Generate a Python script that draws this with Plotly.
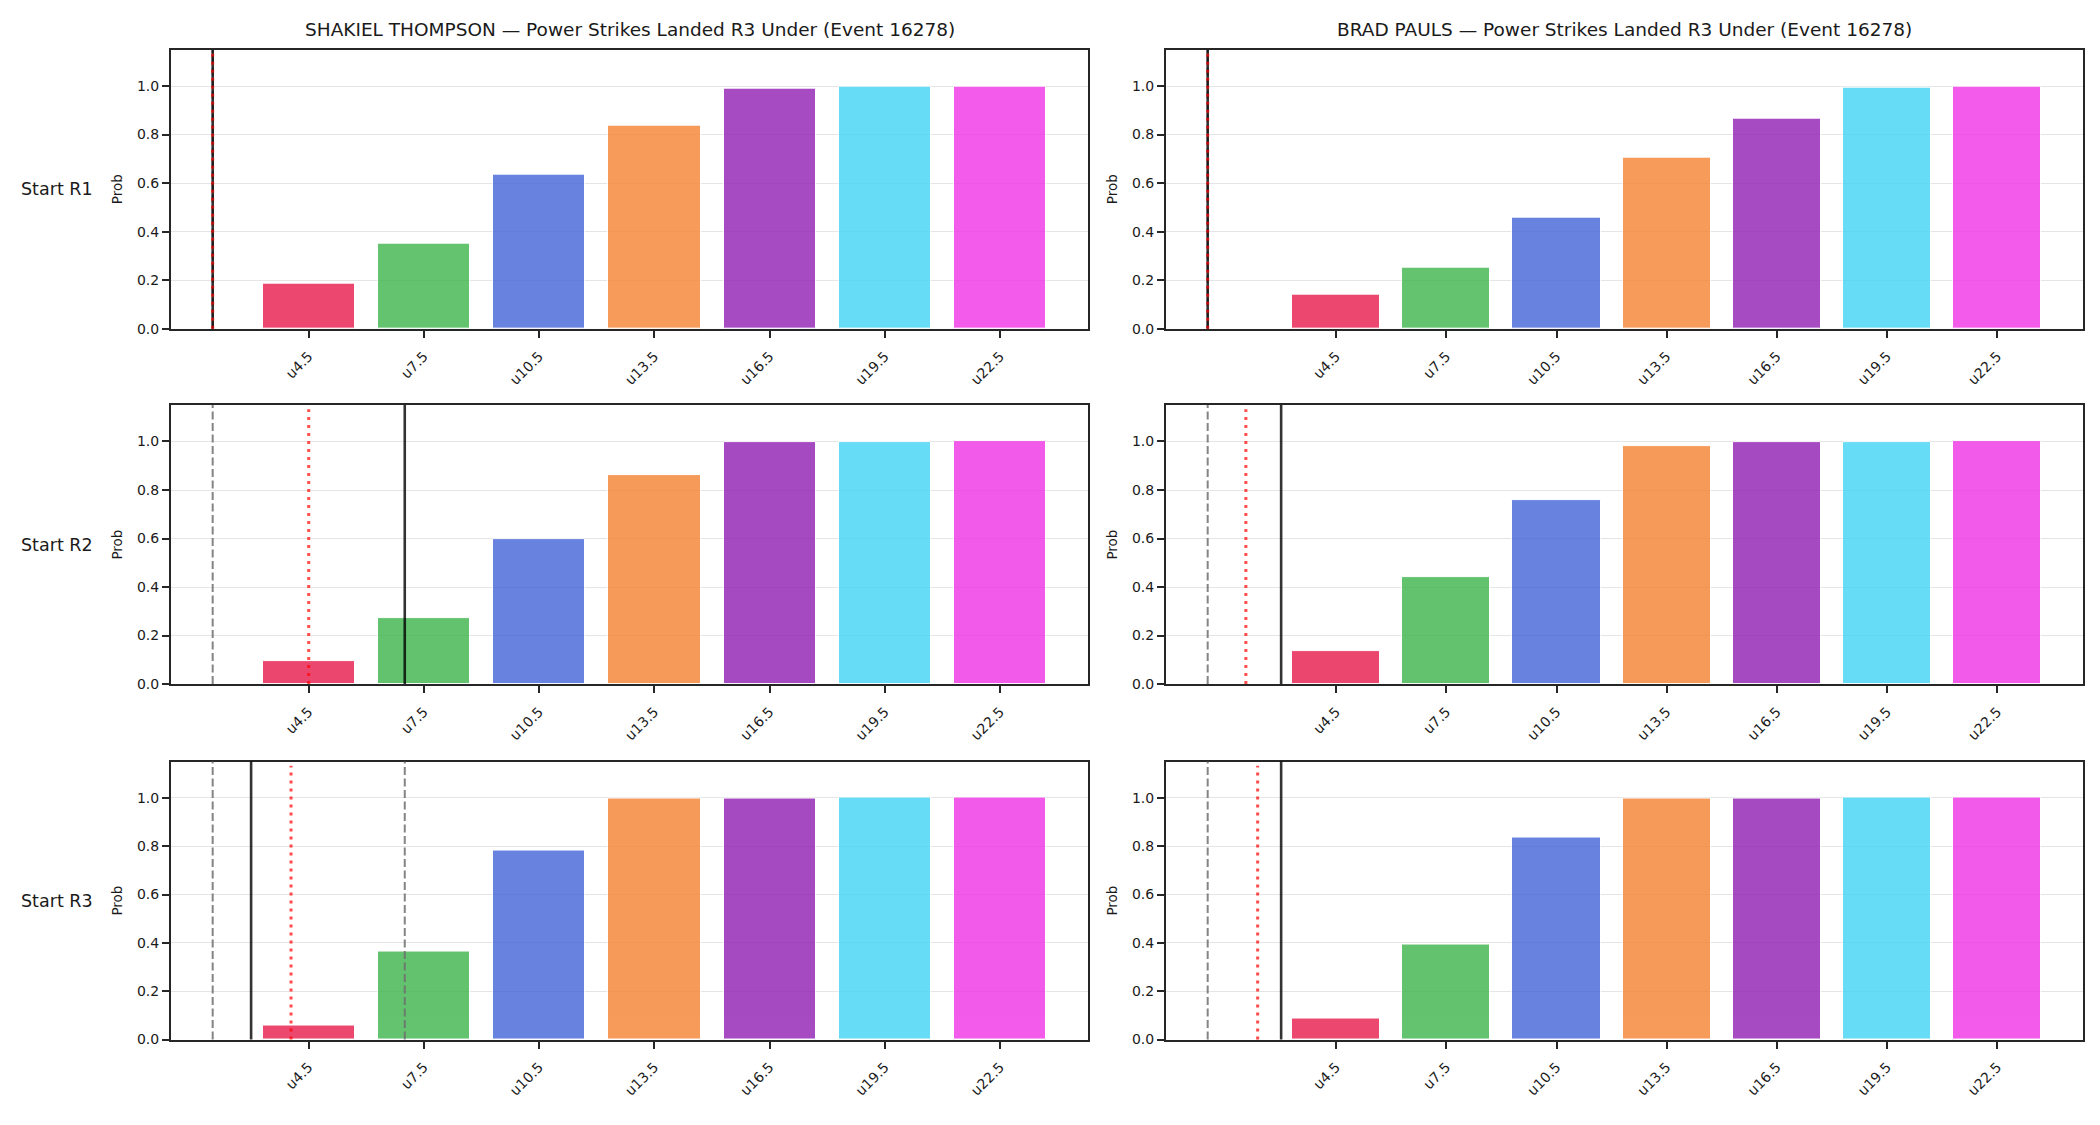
import plotly.graph_objects as go

# ---------------- data ----------------
categories = ["u4.5", "u7.5", "u10.5", "u13.5", "u16.5", "u19.5", "u22.5"]
thresholds = [4.5, 7.5, 10.5, 13.5, 16.5, 19.5, 22.5]
bar_colors = ["#E6194B", "#3CB44B", "#4363D8", "#F58231", "#911EB4", "#42D4F4", "#F032E6"]

fighters = ["SHAKIEL THOMPSON", "BRAD PAULS"]
row_labels = ["Start R1", "Start R2", "Start R3"]
title_suffix = " — Power Strikes Landed R3 Under (Event 16278)"

thompson_r1 = [0.185, 0.349, 0.636, 0.837, 0.989, 0.998, 0.999]
thompson_r2 = [0.093, 0.274, 0.599, 0.862, 0.998, 0.999, 1.0]
thompson_r3 = [0.056, 0.366, 0.783, 0.998, 0.999, 1.0, 1.0]
pauls_r1 = [0.140, 0.250, 0.456, 0.706, 0.866, 0.993, 0.998]
pauls_r2 = [0.138, 0.442, 0.759, 0.981, 0.998, 0.999, 1.0]
pauls_r3 = [0.085, 0.394, 0.836, 0.998, 0.999, 1.0, 1.0]

# vertical reference markers per panel (rows R1..R3)
thompson_dashed = [[2], [2], [2, 7]]
thompson_solid = [2, 7, 3]
thompson_dotted = [2, 4.5, 4.04]
pauls_dashed = [[1], [1], [1]]
pauls_solid = [1, 3, 3]
pauls_dotted = [1, 2.04, 2.36]

values = [[thompson_r1, pauls_r1], [thompson_r2, pauls_r2], [thompson_r3, pauls_r3]]
dashed = [thompson_dashed, pauls_dashed]
solid = [thompson_solid, pauls_solid]
dotted = [thompson_dotted, pauls_dotted]

# ---------------- layout geometry ----------------
W, H = 2100, 1125
col_px = [(171, 1088), (1166, 2083)]
row_px = [(50, 331), (408, 689), (767, 1047)]
bar_w = 0.8 * (thresholds[1] - thresholds[0])

FONT = "DejaVu Sans"
INK = "#262626"

fig = go.Figure()
shapes = []
annotations = []
layout_axes = {}

for r in range(3):
    for c in range(2):
        idx = r * 2 + c + 1
        xa = "xaxis" if idx == 1 else f"xaxis{idx}"
        ya = "yaxis" if idx == 1 else f"yaxis{idx}"
        xr = "x" if idx == 1 else f"x{idx}"
        yr = "y" if idx == 1 else f"y{idx}"

        fig.add_trace(go.Bar(
            x=thresholds, y=values[r][c], width=bar_w,
            marker=dict(color=bar_colors, line=dict(color="white", width=1)),
            opacity=0.8, xaxis=xr, yaxis=yr, showlegend=False,
        ))

        marks = dashed[c][r] + [solid[c][r], dotted[c][r]]
        lo = min(min(marks), thresholds[0] - bar_w / 2)
        hi = max(max(marks), thresholds[-1] + bar_w / 2)
        pad = 0.05 * (hi - lo)

        x0, x1 = col_px[c]
        y0, y1 = row_px[r]
        layout_axes[xa] = dict(
            domain=[x0 / W, x1 / W], anchor=yr, range=[lo - pad, hi + pad],
            tickvals=thresholds, ticktext=categories, tickangle=-45,
            showgrid=False, zeroline=False, showline=True, mirror=True,
            linecolor=INK, linewidth=2, ticks="outside", ticklen=7,
            tickwidth=2, tickcolor=INK, ticklabelstandoff=5,
            tickfont=dict(family=FONT, size=14, color="#1a1a1a"),
        )
        layout_axes[ya] = dict(
            domain=[1 - y1 / H, 1 - y0 / H], anchor=xr, range=[0, 1.15],
            tickvals=[0, 0.2, 0.4, 0.6, 0.8, 1.0], tickformat=".1f",
            showgrid=True, gridcolor="#e5e5e5", gridwidth=1, zeroline=False,
            showline=True, mirror=True, linecolor=INK, linewidth=2,
            ticks="outside", ticklen=7, tickwidth=2, tickcolor=INK,
            tickfont=dict(family=FONT, size=14, color="#1a1a1a"),
        )

        for v in dashed[c][r]:
            shapes.append(dict(type="line", xref=xr, yref=f"{yr} domain",
                               x0=v, x1=v, y0=0, y1=1,
                               line=dict(color="rgba(110,110,110,0.85)", width=2, dash="8px,3.5px")))
        shapes.append(dict(type="line", xref=xr, yref=f"{yr} domain",
                           x0=solid[c][r], x1=solid[c][r], y0=0, y1=1,
                           line=dict(color="rgba(0,0,0,0.8)", width=2.6)))
        shapes.append(dict(type="line", xref=xr, yref=f"{yr} domain",
                           x0=dotted[c][r], x1=dotted[c][r], y0=0, y1=0.985,
                           line=dict(color="rgba(255,0,0,0.7)", width=3, dash="3px,5px")))

        # y label
        annotations.append(dict(text="Prob", xref=f"{xr} domain", yref=f"{yr} domain",
                                x=0, y=0.5, xshift=-54, textangle=-90, showarrow=False,
                                xanchor="center", yanchor="middle",
                                font=dict(family=FONT, size=13.5, color="#1a1a1a")))
        if r == 0:
            annotations.append(dict(text=fighters[c] + title_suffix,
                                    xref=f"{xr} domain", yref=f"{yr} domain",
                                    x=0.5, y=1, yshift=8, showarrow=False,
                                    xanchor="center", yanchor="bottom",
                                    font=dict(family=FONT, size=18.5, color="#1a1a1a")))
        if c == 0:
            annotations.append(dict(text=row_labels[r], xref="paper", yref=f"{yr} domain",
                                    x=57 / W, y=0.5, showarrow=False,
                                    xanchor="center", yanchor="middle",
                                    font=dict(family=FONT, size=17.5, color="#1a1a1a")))

fig.update_layout(
    width=W, height=H, margin=dict(l=0, r=0, t=0, b=0),
    paper_bgcolor="white", plot_bgcolor="white",
    shapes=shapes, annotations=annotations, bargap=0,
    **layout_axes,
)

fig.write_html("out.html")
